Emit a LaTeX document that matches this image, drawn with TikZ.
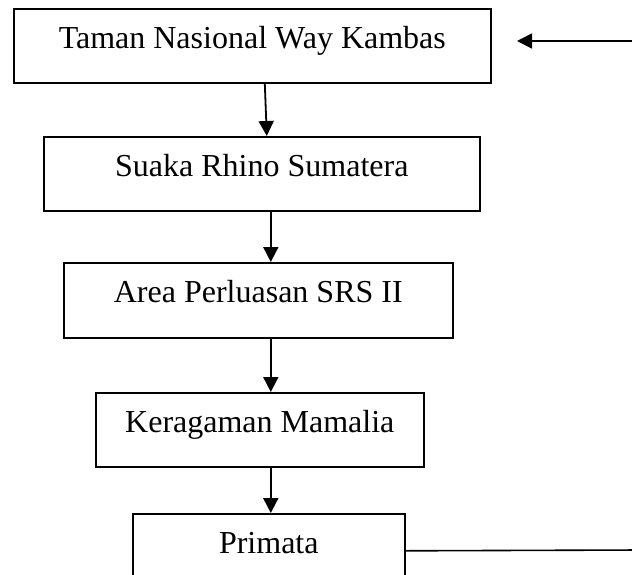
\documentclass[tikz,border=0pt]{standalone}
\usepackage{fontspec}
\setmainfont{Liberation Serif}
\usetikzlibrary{arrows.meta}
\begin{document}
\begin{tikzpicture}[x=1pt,y=-1pt,
  box/.style={draw, line width=1.6pt, anchor=north west, inner xsep=0pt, inner ysep=0pt,
    text height=40pt, text depth=34pt, font=\fontsize{32}{38}\selectfont},
  conn/.style={line width=1.8pt, -{Triangle[width=15pt,length=15pt]}},
  plainline/.style={line width=1.6pt}]
\clip (0,0) rectangle (632,574);
\node[box, minimum width=477pt] (b1) at (13,8) {Taman Nasional Way Kambas};
\node[box, minimum width=436pt] (b2) at (43,136) {Suaka Rhino Sumatera};
\node[box, minimum width=389pt, text depth=35pt] (b3) at (63,262) {Area Perluasan SRS II};
\node[box, minimum width=328pt] (b4) at (95,392) {Keragaman Mamalia};
\node[box, minimum width=272pt] (b5) at (132,513) {Primata};
\coordinate (rin) at (640,41);
\coordinate (rtip) at (517,41);
\coordinate (rout) at (640,550);
\draw[conn] ([xshift=12.5pt]b1.south) -- ([xshift=5pt]b2.north);
\draw[conn] ([xshift=9pt]b2.south) -- ([xshift=12.5pt]b3.north);
\draw[conn] ([xshift=12.5pt]b3.south) -- ([xshift=11pt]b4.north);
\draw[conn] ([xshift=11pt]b4.south) -- ([xshift=2pt]b5.north);
\draw[conn] (rin) -- (rtip);
\draw[plainline] (b5.east) -- (rout);
\end{tikzpicture}
\end{document}
